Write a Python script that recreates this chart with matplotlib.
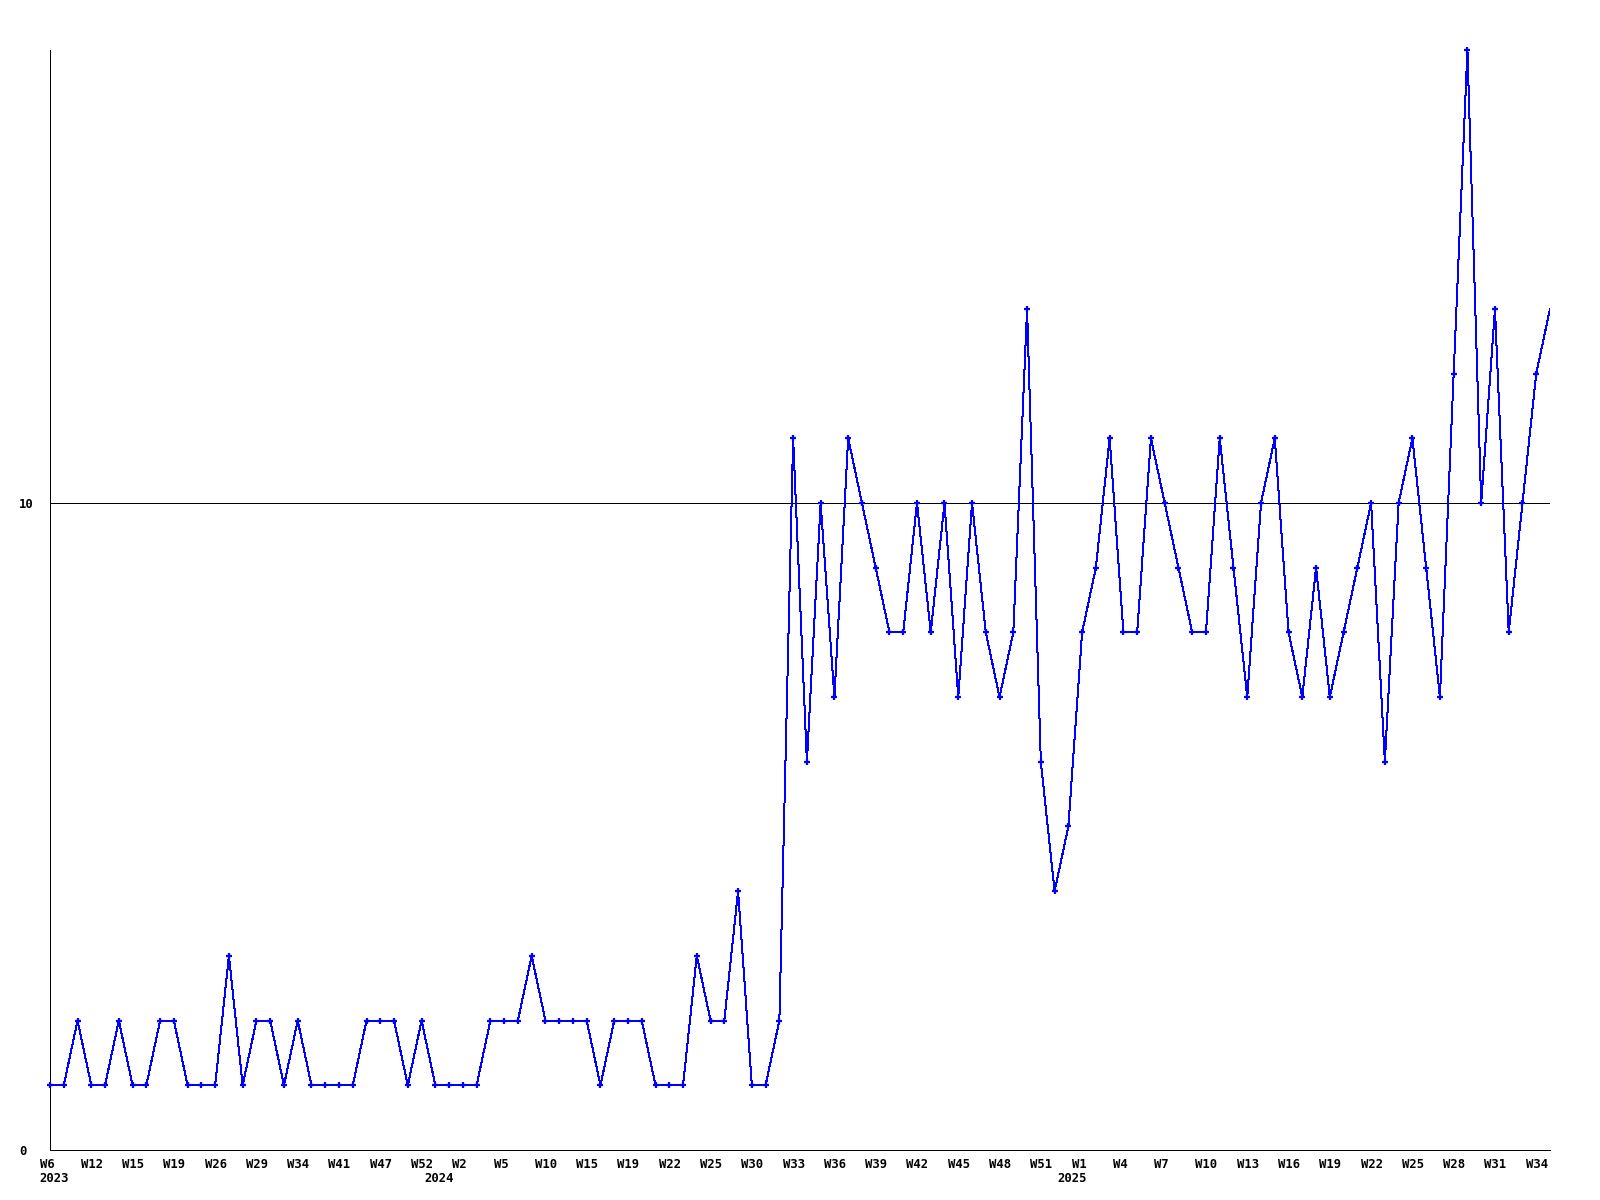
import matplotlib
matplotlib.use('Agg')
import matplotlib.pyplot as plt
import matplotlib.transforms as mtransforms

# weekly counts (110 points)
counts = [1, 1, 2, 1, 1, 2, 1, 1, 2, 2, 1, 1, 1, 3, 1, 2, 2, 1, 2, 1,
          1, 1, 1, 2, 2, 2, 1, 2, 1,
          1, 1, 1, 2, 2, 2, 3, 2, 2, 2, 2, 1, 2, 2, 2, 1, 1, 1, 3, 2, 2,
          4, 1, 1, 2,
          11, 6, 10, 7, 11, 10, 9, 8, 8, 10, 8, 10, 7, 10, 8, 7, 8, 13, 6, 4, 5,
          8, 9, 11, 8, 8, 11, 10, 9, 8, 8, 11, 9, 7, 10, 11, 8, 7, 9,
          7, 8, 9, 10, 6, 10, 11, 9, 7, 12, 17, 10, 13, 8, 10, 12, 13]

week_labels = ['W6', 'W12', 'W15', 'W19', 'W26', 'W29', 'W34', 'W41', 'W47', 'W52',
               'W2', 'W5', 'W10', 'W15', 'W19', 'W22', 'W25', 'W30', 'W33', 'W36',
               'W39', 'W42', 'W45', 'W48', 'W51', 'W1', 'W4', 'W7', 'W10', 'W13',
               'W16', 'W19', 'W22', 'W25', 'W28', 'W31', 'W34']
week_label_step = 3
years = ['2023', '2024', '2025']
year_pos = [0, 28, 74]

mono = {'family': 'DejaVu Sans Mono', 'weight': 'bold', 'size': 8.8}

fig = plt.figure(figsize=(16, 12), dpi=100)
ax = fig.add_axes([50 / 1600, 50 / 1200, 1500 / 1600, 1100 / 1200])

x = list(range(len(counts)))
ax.axhline(10, color='black', linewidth=0.72, antialiased=False, zorder=1)
ax.plot(x, counts, color='#0000ff', linewidth=0.72, antialiased=False, zorder=2)
ax.plot(x[:-1], counts[:-1], linestyle='none', marker='+', markersize=4.5,
        markeredgewidth=1.6, color='#0000ff', clip_on=False, zorder=3)

ax.set_xlim(0, len(counts) - 1)
ax.set_ylim(0, 17)

for side in ['top', 'right']:
    ax.spines[side].set_visible(False)
for side in ['left', 'bottom']:
    ax.spines[side].set_linewidth(0.72)
    ax.spines[side].set_antialiased(False)

ax.set_yticks([0, 10])
ax.set_yticklabels(['0', '10'], fontdict=mono)
ax.tick_params(axis='y', length=0, pad=22.3)
for lab in ax.get_yticklabels():
    lab.set_horizontalalignment('left')

ticks = [i * week_label_step for i in range(len(week_labels))]
ax.set_xticks(ticks)
ax.set_xticklabels(week_labels, fontdict=mono)
ax.tick_params(axis='x', length=0, pad=5.5)
shift = mtransforms.ScaledTranslation(-10.5 / 100, 0, fig.dpi_scale_trans)
for lab in ax.get_xticklabels():
    lab.set_horizontalalignment('left')
    lab.set_transform(lab.get_transform() + shift)

for yr, pos in zip(years, year_pos):
    ax.annotate(yr, xy=(pos, 0), xycoords=('data', 'axes fraction'),
                xytext=(-10.5, -22), textcoords='offset pixels',
                ha='left', va='top', fontsize=8.8, fontweight='bold',
                family='DejaVu Sans Mono', annotation_clip=False)

fig.savefig('out.png', dpi=100, facecolor='white')
